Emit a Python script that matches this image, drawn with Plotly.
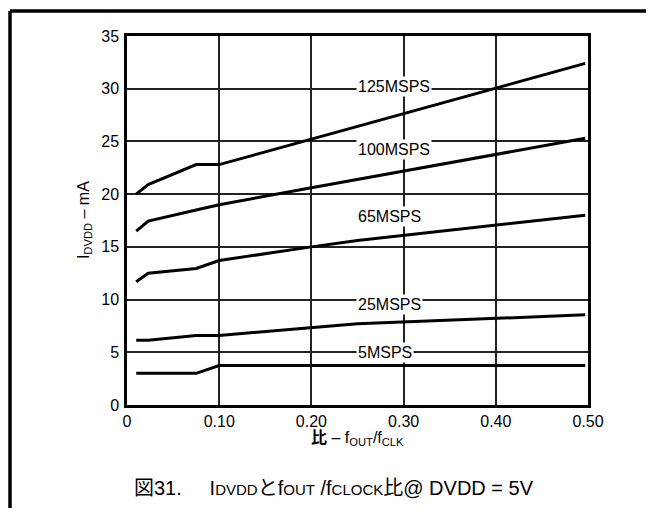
import plotly.graph_objects as go

# ---- data ----
ratio_125 = [0.01, 0.023, 0.075, 0.10, 0.497]
idvdd_125 = [20.0, 20.9, 22.8, 22.8, 32.4]

ratio_100 = [0.01, 0.023, 0.075, 0.10, 0.20, 0.497]
idvdd_100 = [16.5, 17.45, 18.5, 19.0, 20.6, 25.3]

ratio_65 = [0.01, 0.023, 0.075, 0.10, 0.20, 0.25, 0.497]
idvdd_65 = [11.7, 12.5, 12.95, 13.7, 15.0, 15.6, 18.0]

ratio_25 = [0.01, 0.023, 0.075, 0.10, 0.25, 0.497]
idvdd_25 = [6.15, 6.15, 6.6, 6.6, 7.7, 8.55]

ratio_5 = [0.01, 0.075, 0.10, 0.497]
idvdd_5 = [3.0, 3.0, 3.75, 3.75]

series = [
    ("125MSPS", ratio_125, idvdd_125),
    ("100MSPS", ratio_100, idvdd_100),
    ("65MSPS", ratio_65, idvdd_65),
    ("25MSPS", ratio_25, idvdd_25),
    ("5MSPS", ratio_5, idvdd_5),
]

label_names = ["125MSPS", "100MSPS", "65MSPS", "25MSPS", "5MSPS"]
label_y = [30.2, 24.2, 17.9, 9.5, 5.0]
label_x = 0.248

x_tickvals = [0, 0.1, 0.2, 0.3, 0.4, 0.5]
x_ticktext = ["0", "0.10", "0.20", "0.30", "0.40", "0.50"]
y_tickvals = [0, 5, 10, 15, 20, 25, 30, 35]

FONT = "Arial, 'Liberation Sans', 'Noto Sans CJK JP', sans-serif"

fig = go.Figure()

for name, xs, ys in series:
    fig.add_trace(go.Scatter(
        x=xs, y=ys, name=name, mode="lines",
        line=dict(color="black", width=3),
        showlegend=False,
    ))

for name, y in zip(label_names, label_y):
    fig.add_annotation(
        x=label_x, y=y, xref="x", yref="y",
        text=name, showarrow=False,
        xanchor="left", yanchor="middle",
        bgcolor="white", borderpad=1,
        font=dict(size=16, color="black"),
    )

# axis titles
fig.add_annotation(
    x=0.5, y=-0.09, xref="paper", yref="paper",
    text="<b>比</b> – f<sub>OUT</sub>/f<sub>CLK</sub>",
    showarrow=False, xanchor="center", yanchor="middle",
    font=dict(size=16, color="black"),
)
fig.add_annotation(
    x=-0.092, y=0.5, xref="paper", yref="paper",
    text="I<sub>DVDD</sub> – mA", textangle=-90,
    showarrow=False, xanchor="center", yanchor="middle",
    font=dict(size=16, color="black"),
)

# caption
small = "<span style='font-size:15px'>%s</span>"
fig.add_annotation(
    x=0.011, y=-0.225, xref="paper", yref="paper",
    text="図31.     I" + small % "DVDD" + "と"
         "f" + small % "OUT" + " /f" + small % "CLOCK" +
         "比@ DVDD = 5V",
    showarrow=False, xanchor="left", yanchor="middle",
    font=dict(size=20, color="black"),
)

# outer frame: only the top and left edges are inside the window
fig.add_shape(
    type="line", xref="paper", yref="paper",
    x0=-0.2538, x1=1.3, y0=1.0678, y1=1.0678,
    line=dict(color="black", width=3.5), layer="above",
)
fig.add_shape(
    type="line", xref="paper", yref="paper",
    x0=-0.2538, x1=-0.2538, y0=-0.5, y1=1.0678,
    line=dict(color="black", width=3.5), layer="above",
)

# page body has an 8px margin, so the figure is offset by 8px;
# keep it small enough that no scrollbars appear
fig.update_layout(
    width=638, height=500,
    margin=dict(l=119, r=58, t=28, b=103),
    paper_bgcolor="white", plot_bgcolor="white",
    font=dict(family=FONT, size=16, color="black"),
    showlegend=False,
)

fig.update_xaxes(
    range=[0, 0.5], tickvals=x_tickvals, ticktext=x_ticktext,
    showgrid=True, gridcolor="#222222", gridwidth=1.5,
    showline=True, linecolor="black", linewidth=2.5, mirror=True,
    ticks="", zeroline=False, tickfont=dict(size=16),
)
fig.update_yaxes(
    range=[0, 35], tickvals=y_tickvals,
    showgrid=True, gridcolor="#222222", gridwidth=1.5,
    showline=True, linecolor="black", linewidth=2.5, mirror=True,
    ticks="", zeroline=False, tickfont=dict(size=16), ticklabelstandoff=2,
)

fig.write_html("out.html")
